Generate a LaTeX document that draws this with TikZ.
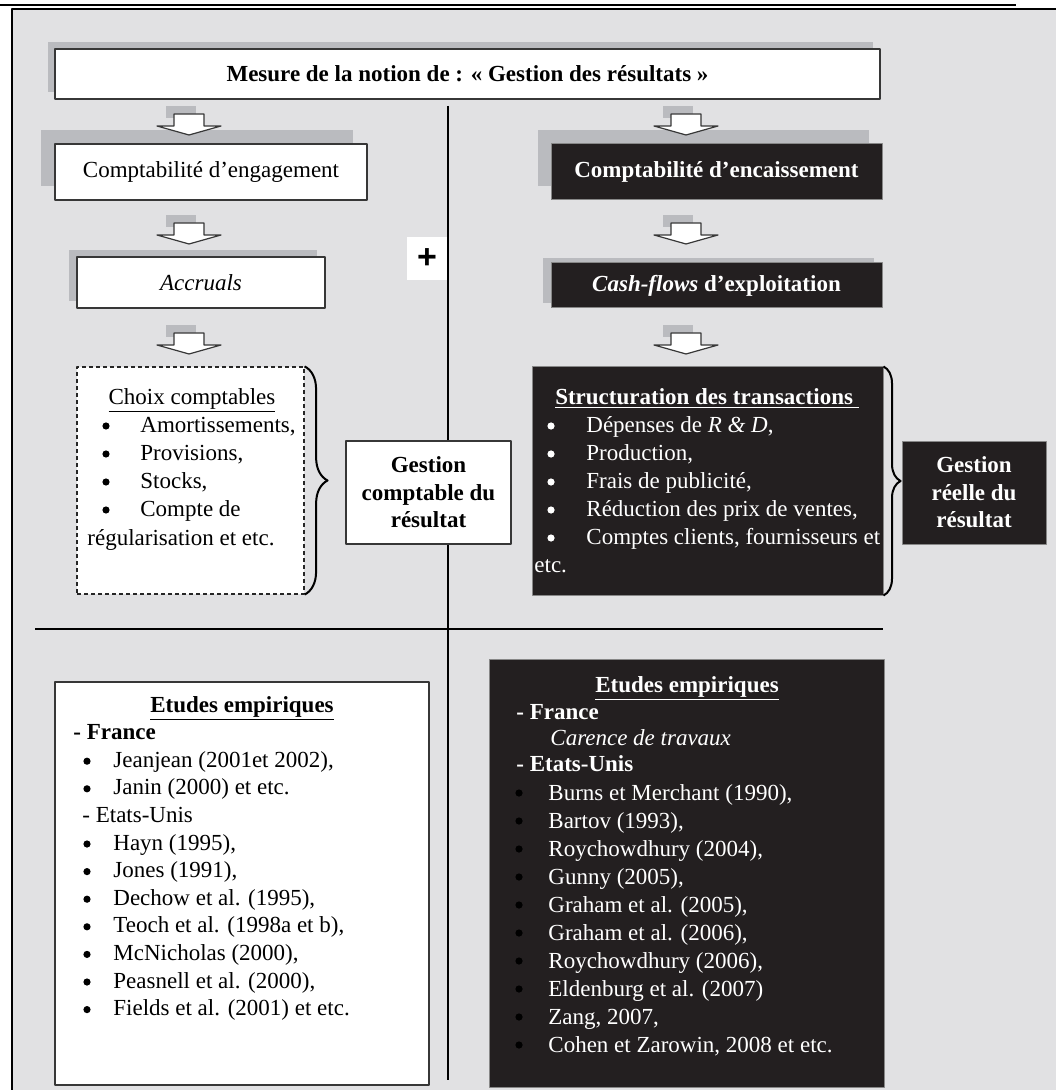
\documentclass[tikz,border=0pt]{standalone}
\usepackage{fontspec}
\setmainfont{Liberation Serif}
\newfontfamily\plusfont{Liberation Sans}
\usetikzlibrary{shadows,decorations.pathreplacing}
\definecolor{bggray}{RGB}{225,225,227}
\definecolor{shadegray}{RGB}{186,187,191}
\definecolor{boxblack}{RGB}{35,31,32}
\definecolor{edgegray}{RGB}{55,55,55}
\newcommand{\bodyfont}{\fontsize{11.5}{13.8}\selectfont}
\tikzset{
  txt/.style={font=\bodyfont, inner sep=0pt},
  wbox/.style={txt, draw=edgegray, line width=0.7pt, fill=white},
  bbox/.style={inner sep=0pt, draw=edgegray!60, line width=0.5pt, fill=boxblack, text=white, font=\bodyfont\bfseries},
  boxshadow/.style 2 args={drop shadow={shadow xshift=#1, shadow yshift=#2, fill=shadegray, opacity=1}},
  dot/.style={circle, fill=#1, inner sep=0pt, minimum size=3.6pt},
  brc/.style={draw=black, line width=1pt, decorate},
  sepline/.style={line width=1.2pt, black},
}
\newcommand{\flowarrow}[2]{%
  \fill[shadegray] (#1-23,#2-8) rectangle (#1+7,#2+4);
  \draw[fill=white, draw=edgegray, line width=0.6pt] (#1-15,#2) -- (#1+15,#2) -- (#1+15,#2+12) -- (#1+32,#2+12) -- (#1,#2+21) -- (#1-32,#2+12) -- (#1-15,#2+12) -- cycle;}

\begin{document}
\begin{tikzpicture}[x=0.5pt,y=-0.5pt,line join=round]
\useasboundingbox (0,0) rectangle (1056,1090);
\fill[bggray] (12,9) rectangle (1056,1090);
\draw[line width=0.9pt] (12,1090) -- (12,9) -- (1056,9);
\draw[line width=0.9pt] (0,5) -- (1016,5);

\draw[sepline] (448,106) -- (448,1080);
\draw[sepline] (35,629) -- (883,629);

\node[wbox, boxshadow={-3.5pt}{3.5pt}, minimum width=412.5pt, minimum height=25pt, font=\bodyfont\bfseries] (title) at (467.5,74) {Mesure de la notion de : « Gestion des résultats »};

\node[wbox, boxshadow={-7pt}{7pt}, minimum width=156pt, minimum height=28pt] (engag) at (211,172) {Comptabilité d’engagement};
\node[wbox, boxshadow={-4pt}{3.5pt}, minimum width=124pt, minimum height=25.5pt] (accr) at (201,282.5) {\textit{Accruals}};
\node[bbox, boxshadow={-6.5pt}{7pt}, minimum width=165.5pt, minimum height=28pt] (encais) at (716.5,172) {Comptabilité d’encaissement};
\node[bbox, boxshadow={-4pt}{2.5pt}, minimum width=165.5pt, minimum height=22.5pt] (cashf) at (716.5,285.5) {\textit{Cash-flows} d’exploitation};

\node[txt, fill=white, minimum width=20pt, minimum height=21.5pt, font=\plusfont\bfseries\fontsize{17}{18}\selectfont] (plus) at (427,258.5) {+};

\foreach \ay in {114,223,333} {\flowarrow{189}{\ay}\flowarrow{686}{\ay}}

\node[draw=black!85, dash pattern=on 2.2pt off 1.3pt, line width=0.6pt, fill=white, inner sep=0pt, minimum width=113.5pt, minimum height=113.5pt] (choix) at (190.5,480.5) {};
\draw[brc, decoration={brace, amplitude=11.5pt}] (choix.north east) -- (choix.south east);
\node[txt, anchor=base] (choix-head) at (192,404) {\underline{Choix comptables}};
\foreach \t [count=\i] in {{Amortissements,},{Provisions,},{Stocks,},{Compte de}} {
  \node[dot=black] (choix-dot\i) at (106,{398+28*\i}) {};
  \node[txt, anchor=base west] (choix-\i) at (140,{404+28*\i}) {\t};
}
\node[txt, anchor=base west] (choix-5) at (87,545) {régularisation et etc.};

\node[wbox, align=center, minimum width=82.5pt, minimum height=51.5pt, font=\bodyfont\bfseries] (gcomp) at (428.5,492.5) {Gestion\\comptable du\\résultat};

\node[bbox, minimum width=175.5pt, minimum height=114pt] (struct) at (707.5,481) {};
\draw[brc, decoration={brace, amplitude=8.5pt}] (struct.north east) -- (struct.south east);
\node[txt, anchor=base, text=white, font=\bodyfont\bfseries] (struct-head) at (707,404) {\underline{Structuration des transactions\ }};
\foreach \t [count=\i] in {{Dépenses de \textit{R \& D},},{Production,},{Frais de publicité,},{Réduction des prix de ventes,},{Comptes clients, fournisseurs et}} {
  \node[dot=white] (struct-dot\i) at (551,{398+28*\i}) {};
  \node[txt, anchor=base west, text=white] (struct-\i) at (586,{404+28*\i}) {\t};
}
\node[txt, anchor=base west, text=white] (struct-6) at (534,572) {etc.};

\node[bbox, align=center, minimum width=72pt, minimum height=51.5pt] (greel) at (974,492.5) {Gestion\\réelle du\\résultat};

\node[wbox, minimum width=187pt, minimum height=201.5pt] (empl) at (242,883.5) {};
\node[txt, anchor=base, font=\bodyfont\bfseries] (empl-head) at (242,712) {\underline{Etudes empiriques}};
\node[txt, anchor=base west, font=\bodyfont\bfseries] (empl-fr) at (73,739.6) {- France};
\foreach \t [count=\i] in {{Jeanjean (2001et 2002),},{Janin (2000) et etc.}} {
  \node[dot=black] (empl-frdot\i) at (87,{733.6+27.6*\i}) {};
  \node[txt, anchor=base west] (empl-fr\i) at (113,{739.6+27.6*\i}) {\t};
}
\node[txt, anchor=base west] (empl-us) at (82,822.4) {- Etats-Unis};
\foreach \t [count=\i] in {{Hayn (1995),},{Jones (1991),},{Dechow et al. (1995),},{Teoch et al. (1998a et b),},{McNicholas (2000),},{Peasnell et al. (2000),},{Fields et al. (2001) et etc.}} {
  \node[dot=black] (empl-usdot\i) at (87,{816.4+27.6*\i}) {};
  \node[txt, anchor=base west] (empl-us\i) at (113,{822.4+27.6*\i}) {\t};
}

\node[bbox, minimum width=197.5pt, minimum height=214pt] (empr) at (686.5,873) {};
\node[txt, anchor=base, text=white, font=\bodyfont\bfseries] (empr-head) at (687,692) {\underline{Etudes empiriques}};
\node[txt, anchor=base west, text=white, font=\bodyfont\bfseries] (empr-fr) at (516,719) {- France};
\node[txt, anchor=base west, text=white] (empr-fr1) at (550,745) {\textit{Carence de travaux}};
\node[txt, anchor=base west, text=white, font=\bodyfont\bfseries] (empr-us) at (516,771) {- Etats-Unis};
\foreach \t [count=\i] in {{Burns et Merchant (1990),},{Bartov (1993),},{Roychowdhury (2004),},{Gunny (2005),},{Graham et al. (2005),},{Graham et al. (2006),},{Roychowdhury (2006),},{Eldenburg et al. (2007)},{Zang, 2007,},{Cohen et Zarowin, 2008 et etc.}} {
  \node[dot=black] (empr-usdot\i) at (519,{765+28*\i}) {};
  \node[txt, anchor=base west, text=white] (empr-us\i) at (548,{772+28*\i}) {\t};
}
\end{tikzpicture}
\end{document}
